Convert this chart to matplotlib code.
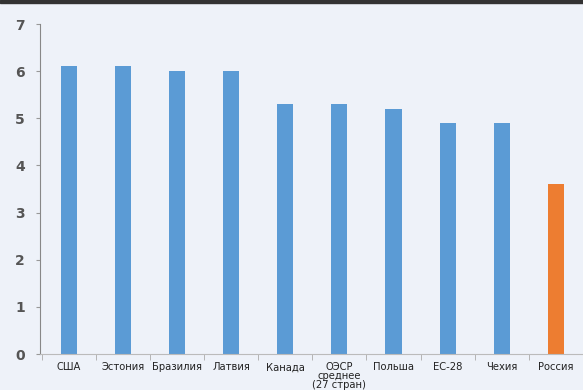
import matplotlib
matplotlib.use("Agg")
import matplotlib.pyplot as plt
import numpy as np

categories = ["США", "Эстония", "Бразилия", "Латвия", "Канада",
              "ОЭСР\nсреднее\n(27 стран)", "Польша", "ЕС-28", "Чехия", "Россия"]
values = [6.1, 6.1, 6.0, 6.0, 5.3, 5.3, 5.2, 4.9, 4.9, 3.6]
yticks = [0, 1, 2, 3, 4, 5, 6, 7]

bg = "#eef2f9"
blue = "#5b9bd5"
orange = "#ed7d31"

fig = plt.figure(figsize=(5.83, 3.9), dpi=100, facecolor=bg)
ax = fig.add_axes([0.0686, 0.0923, 1 - 0.0686, 0.846])
ax.set_facecolor(bg)

x = np.arange(len(categories))
colors = [blue] * (len(values) - 1) + [orange]
ax.bar(x, values, width=0.3, color=colors, zorder=2)

ax.set_xlim(-0.53, 9.4)
ax.set_ylim(0, 7)
ax.set_yticks(yticks)
ax.set_yticklabels([str(v) for v in yticks], fontsize=10, color="#555555", fontweight="bold")
ax.set_xticks(x)
ax.set_xticklabels(categories, fontsize=7.2, color="#222222", linespacing=0.88)
ax.tick_params(axis="x", length=0, pad=6)
ax.set_xticks(np.arange(-0.5, len(categories), 1.0), minor=True)
ax.tick_params(axis="x", which="minor", length=4, color="#aaaaaa", direction="out")
ax.tick_params(axis="y", length=3, color="#999999", pad=8)

for s in ["top", "right"]:
    ax.spines[s].set_visible(False)
ax.spines["left"].set_color("#888888")
ax.spines["bottom"].set_color("#bbbbbb")

fig.add_artist(plt.Rectangle((0, 0.992), 1, 0.008, transform=fig.transFigure,
                             color="#333333", zorder=5))

fig.savefig("out.png", dpi=100, facecolor=bg)
